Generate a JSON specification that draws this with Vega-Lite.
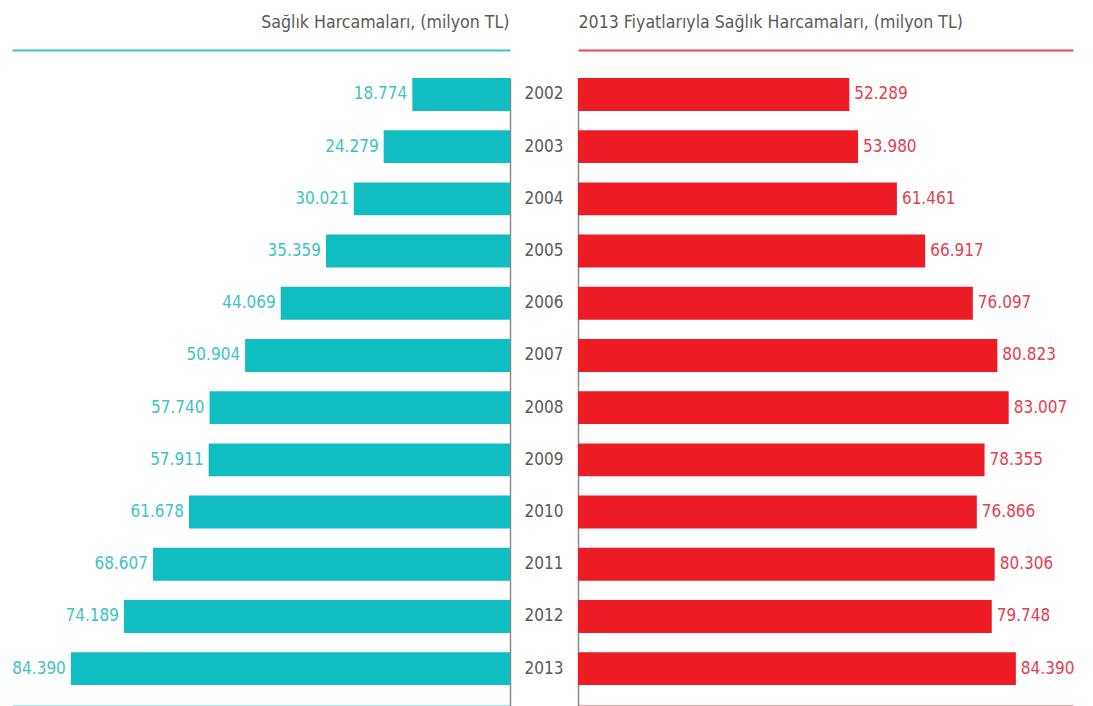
{
  "$schema": "https://vega.github.io/schema/vega-lite/v6.json",
  "padding": {"left": 12, "top": 13, "right": 0, "bottom": 0},
  "background": "white",
  "config": {
    "view": {"stroke": null},
    "font": "DejaVu Sans Condensed, Roboto, sans-serif",
    "locale": {"number": {"decimal": ",", "thousands": ".", "grouping": [3], "currency": ["", " TL"]}}
  },
  "data": {
    "values": [
      {"year": "2002", "nominal": 18774, "real": 52289},
      {"year": "2003", "nominal": 24279, "real": 53980},
      {"year": "2004", "nominal": 30021, "real": 61461},
      {"year": "2005", "nominal": 35359, "real": 66917},
      {"year": "2006", "nominal": 44069, "real": 76097},
      {"year": "2007", "nominal": 50904, "real": 80823},
      {"year": "2008", "nominal": 57740, "real": 83007},
      {"year": "2009", "nominal": 57911, "real": 78355},
      {"year": "2010", "nominal": 61678, "real": 76866},
      {"year": "2011", "nominal": 68607, "real": 80306},
      {"year": "2012", "nominal": 74189, "real": 79748},
      {"year": "2013", "nominal": 84390, "real": 84390}
    ]
  },
  "spacing": 0,
  "bounds": "flush",
  "hconcat": [
    {
      "width": 498,
      "height": 628,
      "encoding": {
        "y": {
          "field": "year", "type": "ordinal",
          "scale": {"type": "band", "paddingInner": 0.37, "paddingOuter": 0.2, "align": 0},
          "axis": {"orient": "right", "title": null, "labels": false, "ticks": false, "grid": false, "domainColor": "#8a8a8a", "domainWidth": 1.5}
        }
      },
      "layer": [
        {
          "mark": {"type": "bar", "color": "#10BDC0"},
          "encoding": {
            "x": {
              "field": "nominal", "type": "quantitative",
              "scale": {"domain": [0, 95700], "reverse": true, "nice": false, "zero": true},
              "axis": {"orient": "top", "offset": 28, "labels": false, "ticks": false, "grid": false, "domainColor": "#3CC5C6", "domainWidth": 2,
                       "title": "Sağlık Harcamaları, (milyon TL)", "titleAnchor": "start", "titleAlign": "right", "titleX": 497, "titleFontSize": 17.6, "titleFontWeight": "normal", "titleColor": "#5a5a5a", "titlePadding": 19}
            }
          }
        },
        {
          "mark": {"type": "text", "align": "right", "dx": -5, "fontSize": 17, "color": "#3DC3C5"},
          "encoding": {
            "x": {
              "field": "nominal", "type": "quantitative",
              "scale": {"domain": [0, 95700], "reverse": true, "nice": false, "zero": true},
              "axis": {"orient": "bottom", "labels": false, "ticks": false, "grid": false, "title": null, "domainColor": "#3CC5C6", "domainWidth": 2}
            },
            "text": {"field": "nominal", "type": "quantitative", "format": ",d"}
          }
        }
      ],
      "resolve": {"axis": {"x": "independent"}}
    },
    {
      "width": 68,
      "height": 628,
      "mark": {"type": "text", "fontSize": 17, "color": "#5a5a5a"},
      "encoding": {
        "y": {
          "field": "year", "type": "ordinal", "bandPosition": 0.5,
          "scale": {"type": "band", "paddingInner": 0.37, "paddingOuter": 0.2, "align": 0},
          "axis": null
        },
        "text": {"field": "year", "type": "nominal"}
      }
    },
    {
      "width": 495,
      "height": 628,
      "encoding": {
        "y": {
          "field": "year", "type": "ordinal",
          "scale": {"type": "band", "paddingInner": 0.37, "paddingOuter": 0.2, "align": 0},
          "axis": {"orient": "left", "title": null, "labels": false, "ticks": false, "grid": false, "domainColor": "#8a8a8a", "domainWidth": 1.5}
        }
      },
      "layer": [
        {
          "mark": {"type": "bar", "color": "#ED1C24"},
          "encoding": {
            "x": {
              "field": "real", "type": "quantitative",
              "scale": {"domain": [0, 95400], "nice": false, "zero": true},
              "axis": {"orient": "top", "offset": 28, "labels": false, "ticks": false, "grid": false, "domainColor": "#E8474F", "domainWidth": 2,
                       "title": "2013 Fiyatlarıyla Sağlık Harcamaları, (milyon TL)", "titleAnchor": "start", "titleAlign": "left", "titleFontSize": 17.6, "titleFontWeight": "normal", "titleColor": "#5a5a5a", "titlePadding": 19}
            }
          }
        },
        {
          "mark": {"type": "text", "align": "left", "dx": 5, "fontSize": 17, "color": "#E3404F"},
          "encoding": {
            "x": {
              "field": "real", "type": "quantitative",
              "scale": {"domain": [0, 95400], "nice": false, "zero": true},
              "axis": {"orient": "bottom", "labels": false, "ticks": false, "grid": false, "title": null, "domainColor": "#E8474F", "domainWidth": 2}
            },
            "text": {"field": "real", "type": "quantitative", "format": ",d"}
          }
        }
      ],
      "resolve": {"axis": {"x": "independent"}}
    }
  ]
}
